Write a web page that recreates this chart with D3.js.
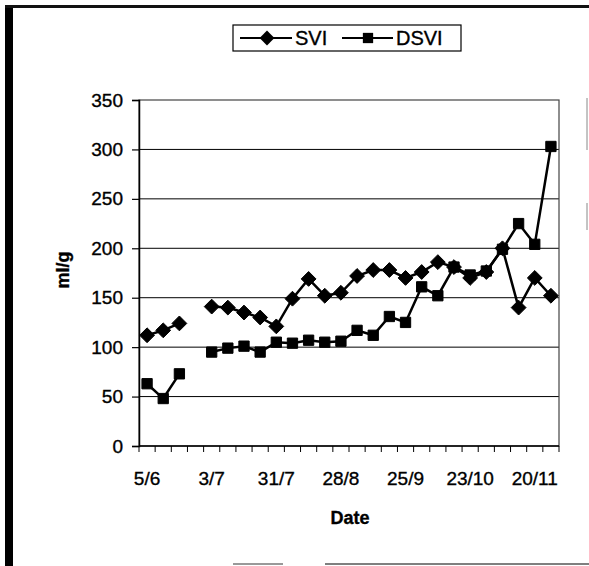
<!DOCTYPE html>
<html>
<head>
<meta charset="utf-8">
<script src="https://cdn.jsdelivr.net/npm/d3@7"></script>
<style>
  body { margin: 0; background: #fff; }
  svg { font-family: "Liberation Sans", Arial, sans-serif; }
  svg text { fill: #000; stroke: #000; stroke-width: 0.35px; }
  .tick text { font-size: 19px; }
</style>
</head>
<body>
<div class="svg-container"></div>
<script>
var width = 589;
var height = 566;

// plot area in page pixels
var plot = { "left": 139, "right": 559, "top": 100, "bottom": 446 };

// weekly sampling dates (category axis)
var dates = ["5/6", "12/6", "19/6", "26/6", "3/7", "10/7", "17/7", "24/7",
             "31/7", "7/8", "14/8", "21/8", "28/8", "4/9", "11/9", "18/9",
             "25/9", "2/10", "9/10", "16/10", "23/10", "30/10", "6/11",
             "13/11", "20/11", "27/11"];

var svi  = [112, 117, 124, null, 141, 140, 135, 130, 121, 149, 169, 152, 155,
            172, 178, 178, 170, 176, 186, 181, 170, 176, 200, 140, 170, 152];

var dsvi = [63, 48, 73, null, 95, 99, 101, 95, 105, 104, 107, 105, 106,
            117, 112, 131, 125, 161, 152, 181, 173, 177, 199, 225, 204, 303];

var yTicks = [0, 50, 100, 150, 200, 250, 300, 350];

var svg = d3.select(".svg-container")
            .append("svg")
            .attr("width", width)
            .attr("height", height);

// scan frame: heavy left rule, top rule, some broken bits
svg.append("rect").attr("x", 5).attr("y", 8).attr("width", 8).attr("height", 558).attr("fill", "#000");
svg.append("rect").attr("x", 5).attr("y", 5).attr("width", 584).attr("height", 3).attr("fill", "#111");
svg.append("line").attr("x1", 587).attr("x2", 587).attr("y1", 98).attr("y2", 150).attr("stroke", "#888").attr("stroke-width", 1);
svg.append("line").attr("x1", 587).attr("x2", 587).attr("y1", 203).attr("y2", 230).attr("stroke", "#888").attr("stroke-width", 1);
svg.append("line").attr("x1", 233).attr("x2", 283).attr("y1", 564).attr("y2", 564).attr("stroke", "#777").attr("stroke-width", 1.5);
svg.append("line").attr("x1", 325).attr("x2", 589).attr("y1", 564).attr("y2", 564).attr("stroke", "#555").attr("stroke-width", 1.5);

var scaleX = d3.scaleBand()
               .domain(d3.range(dates.length))
               .range([plot.left, plot.right])
               .paddingInner(0)
               .paddingOuter(0);

var scaleY = d3.scaleLinear()
               .domain([0, 350])
               .range([plot.bottom, plot.top]);

// gridlines
svg.append("g")
   .selectAll("line")
   .data(yTicks.slice(1, -1))
   .enter()
   .append("line")
   .attr("x1", plot.left)
   .attr("x2", plot.right)
   .attr("y1", function(d) { return scaleY(d); })
   .attr("y2", function(d) { return scaleY(d); })
   .attr("stroke", "#000")
   .attr("stroke-width", 1);

// plot border
svg.append("rect")
   .attr("x", plot.left)
   .attr("y", plot.top)
   .attr("width", plot.right - plot.left)
   .attr("height", plot.bottom - plot.top)
   .attr("fill", "none")
   .attr("stroke", "#444")
   .attr("stroke-width", 1.2);

// y axis
var yAxis = svg.append("g")
   .attr("transform", "translate(" + plot.left + ",0)")
   .call(d3.axisLeft(scaleY).tickValues(yTicks).tickSize(7).tickPadding(9));
yAxis.select(".domain").attr("stroke", "#000").attr("stroke-width", 1.5);
yAxis.selectAll(".tick line").attr("stroke", "#000").attr("stroke-width", 1.2);
yAxis.selectAll(".tick text").attr("fill", "#000");

// x axis: tick marks on category boundaries, labels every 4th week
var bounds = d3.range(dates.length + 1);
var xg = svg.append("g");
xg.append("line")
  .attr("x1", plot.left).attr("x2", plot.right)
  .attr("y1", plot.bottom).attr("y2", plot.bottom)
  .attr("stroke", "#000").attr("stroke-width", 1.5);
xg.selectAll(".xtick")
  .data(bounds)
  .enter()
  .append("line")
  .attr("class", "xtick")
  .attr("x1", function(i) { return plot.left + i * scaleX.bandwidth(); })
  .attr("x2", function(i) { return plot.left + i * scaleX.bandwidth(); })
  .attr("y1", plot.bottom)
  .attr("y2", plot.bottom + 6)
  .attr("stroke", "#000")
  .attr("stroke-width", 1);
xg.selectAll(".xlabel")
  .data(dates.map(function(d, i) { return { "label": d, "i": i }; })
             .filter(function(d) { return d.i % 4 === 0; }))
  .enter()
  .append("text")
  .attr("class", "xlabel")
  .attr("x", function(d) { return scaleX(d.i) + scaleX.bandwidth() / 2; })
  .attr("y", 485)
  .attr("text-anchor", "middle")
  .style("font-size", "19px")
  .text(function(d) { return d.label; });

// axis titles
svg.append("text")
   .attr("x", 350)
   .attr("y", 524)
   .attr("text-anchor", "middle")
   .style("font-size", "18px")
   .style("font-weight", "bold")
   .text("Date");

svg.append("text")
   .attr("transform", "translate(69,270) rotate(-90)")
   .attr("text-anchor", "middle")
   .style("font-size", "18px")
   .style("font-weight", "bold")
   .text("ml/g");

// series
function cx(i) { return scaleX(i) + scaleX.bandwidth() / 2; }

var line = d3.line()
             .defined(function(d) { return d != null; })
             .x(function(d, i) { return cx(i); })
             .y(function(d) { return scaleY(d); });

var diamond = d3.symbol().type(d3.symbolDiamond2).size(140);
var square = d3.symbol().type(d3.symbolSquare2).size(135);

function drawSeries(values, sym) {
  svg.append("path")
     .datum(values)
     .attr("fill", "none")
     .attr("stroke", "#000")
     .attr("stroke-width", 2.5)
     .attr("d", line);
  svg.append("g")
     .selectAll("path")
     .data(values.map(function(v, i) { return { "v": v, "i": i }; })
                 .filter(function(d) { return d.v != null; }))
     .enter()
     .append("path")
     .attr("transform", function(d) { return "translate(" + cx(d.i) + "," + scaleY(d.v) + ")"; })
     .attr("d", sym)
     .attr("fill", "#000")
     .attr("stroke", "#000")
     .attr("stroke-width", 1);
}

drawSeries(svi, diamond);
drawSeries(dsvi, square);

// legend
var lg = svg.append("g");
lg.append("rect")
  .attr("x", 233).attr("y", 25).attr("width", 228).attr("height", 26)
  .attr("fill", "#fff").attr("stroke", "#000").attr("stroke-width", 1.2);
lg.append("line").attr("x1", 240).attr("x2", 292).attr("y1", 38).attr("y2", 38)
  .attr("stroke", "#000").attr("stroke-width", 2);
lg.append("path").attr("transform", "translate(267,38)").attr("d", diamond).attr("fill", "#000");
lg.append("text").attr("x", 295).attr("y", 45).style("font-size", "20px").text("SVI");
lg.append("line").attr("x1", 342).attr("x2", 393).attr("y1", 38).attr("y2", 38)
  .attr("stroke", "#000").attr("stroke-width", 2);
lg.append("path").attr("transform", "translate(368,38)").attr("d", square).attr("fill", "#000");
lg.append("text").attr("x", 396).attr("y", 45).style("font-size", "20px").text("DSVI");
</script>
</body>
</html>
